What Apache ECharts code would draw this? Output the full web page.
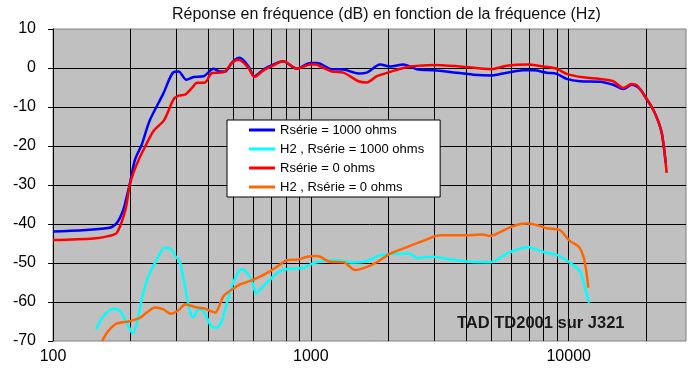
<!DOCTYPE html>
<html>
<head>
<meta charset="utf-8">
<script src="https://cdn.jsdelivr.net/npm/echarts@6/dist/echarts.min.js"></script>
<style>
  html, body { margin: 0; padding: 0; background: #fff; }
  #chart { width: 694px; height: 377px; }
</style>
</head>
<body>
<div id="chart"></div>
<script>
// courbes (Hz, dB)
var freqR1000 = [100, 164, 177, 187, 192, 199, 208, 221, 231, 238, 268, 293, 307, 329, 351, 384, 419, 445, 465, 494, 529, 573, 604, 655, 706, 779, 883, 994, 1050, 1087, 1206, 1338, 1530, 1648, 1856, 2030, 2285, 2575, 2987, 3467, 4268, 5030, 5750, 6670, 7290, 8220, 8985, 9820, 11060, 13220, 14890, 16280, 17550, 18900, 20060, 21280, 22250, 22940, 23410, 23770];
var dbR1000 = [-41.9, -41.0, -39.7, -36.5, -33.7, -29.4, -23.5, -19.6, -15.6, -13.2, -6.5, -1.1, -0.9, -3.0, -2.3, -2.1, -0.2, -0.9, -0.9, 1.4, 2.6, 0.4, -2.1, -0.4, 0.7, 1.7, -0.2, 1.3, 1.3, 1.1, -0.3, -0.4, -1.4, -1.2, 0.9, 0.4, 0.9, -0.3, -0.6, -1.0, -1.7, -1.9, -1.2, -0.6, -0.6, -1.2, -1.5, -2.8, -3.4, -3.5, -4.3, -5.4, -4.3, -5.4, -8.0, -10.7, -13.7, -16.6, -20.5, -24.3];

var freqH2R1000 = [147, 157, 172, 182, 192, 204, 213, 221, 233, 249, 272, 285, 301, 310, 321, 336, 349, 367, 382, 395, 413, 429, 452, 465, 487, 517, 540, 565, 591, 614, 636, 675, 716, 760, 831, 936, 994, 1055, 1261, 1462, 1648, 1856, 2090, 2426, 2575, 2987, 3467, 4144, 4955, 5259, 5750, 6287, 6970, 7516, 8220, 8985, 9820, 10577, 11060, 11390, 11744, 11990];
var dbH2R1000 = [-67.0, -63.6, -61.7, -62.3, -64.9, -68.0, -64.4, -59.3, -53.8, -49.9, -46.1, -46.3, -48.6, -49.5, -54.2, -61.0, -64.0, -61.9, -62.3, -64.0, -66.4, -66.6, -64.9, -61.9, -57.2, -52.9, -51.6, -52.5, -54.6, -57.8, -56.8, -55.1, -53.4, -52.1, -51.5, -51.2, -50.4, -49.8, -49.3, -49.9, -49.5, -48.0, -47.6, -47.6, -48.7, -48.4, -49.1, -49.7, -49.8, -49.2, -47.6, -46.6, -45.9, -46.6, -47.4, -47.9, -49.3, -50.9, -52.1, -54.6, -58.0, -60.2];

var freqR0 = [100, 144, 164, 177, 191, 198, 205, 215, 228, 245, 270, 293, 307, 326, 346, 361, 389, 413, 458, 494, 524, 573, 604, 655, 706, 783, 883, 994, 1050, 1087, 1206, 1338, 1530, 1648, 1803, 2030, 2220, 2426, 2987, 3791, 5030, 5750, 6880, 7970, 8985, 9820, 11390, 13220, 14890, 16280, 17550, 18350, 20060, 21280, 22250, 22940, 23410, 23770, 23980];
var dbR0 = [-44.1, -43.7, -43.1, -42.2, -36.3, -30.3, -26.9, -23.5, -20.1, -16.2, -13.3, -8.1, -7.1, -6.8, -5.1, -3.8, -3.7, -1.3, -1.1, 1.3, 2.1, 0.0, -2.3, -0.6, 0.5, 1.7, -0.2, 0.9, 0.9, 0.4, -0.9, -1.2, -3.4, -3.7, -2.1, -1.0, -0.2, 0.4, 0.8, 0.4, -0.3, 0.6, 0.9, 0.4, -0.2, -1.5, -2.4, -2.8, -3.4, -5.1, -4.1, -4.4, -7.9, -10.7, -13.7, -16.6, -20.5, -24.3, -26.9];

var freqH2R0 = [155, 164, 177, 199, 218, 231, 249, 268, 287, 307, 326, 341, 362, 389, 407, 426, 439, 458, 494, 532, 582, 636, 695, 760, 807, 895, 965, 1055, 1087, 1188, 1338, 1485, 1624, 1803, 2030, 2426, 2732, 3171, 3904, 4667, 4955, 5417, 6100, 6880, 7742, 8220, 9254, 10116, 10894, 11390, 11668, 11914];
var dbH2R0 = [-70.0, -67.4, -65.5, -64.9, -64.0, -62.7, -61.4, -61.9, -63.0, -62.1, -60.6, -60.9, -61.4, -61.7, -62.3, -62.7, -61.4, -58.5, -56.8, -55.5, -54.6, -53.5, -52.1, -50.4, -49.3, -49.1, -48.4, -48.2, -48.4, -49.7, -49.8, -51.8, -51.2, -49.8, -47.6, -45.6, -44.3, -42.9, -42.9, -42.7, -43.1, -42.1, -40.5, -39.9, -40.5, -41.1, -41.6, -44.4, -45.7, -48.2, -51.6, -56.3];

var seriesNames = ['Rsérie = 1000 ohms', 'H2 , Rsérie = 1000 ohms', 'Rsérie = 0 ohms', 'H2 , Rsérie = 0 ohms'];
var seriesColors = ['#0000ff', '#00ffff', '#ff0000', '#ff6600'];

// quadrillage : lignes verticales log et horizontales tous les 10 dB
var gridFreqs = [200, 300, 400, 500, 600, 700, 800, 900, 1000, 2000, 3000, 4000, 5000, 6000, 7000, 8000, 9000, 10000, 20000];
var gridDb = [0, -10, -20, -30, -40, -50, -60];

var fontFamily = '"Liberation Sans", Arial, sans-serif';

function pairs(xs, ys) {
    var out = [];
    for (var i = 0; i < xs.length; i++) {
        out.push([xs[i], ys[i]]);
    }
    return out;
}

var gridLines = [];
gridFreqs.forEach(function (f) { gridLines.push({xAxis: f}); });
gridDb.forEach(function (d) { gridLines.push({yAxis: d}); });

var curves = [
    [freqR1000, dbR1000],
    [freqH2R1000, dbH2R1000],
    [freqR0, dbR0],
    [freqH2R0, dbH2R0]
];

var series = [{
    name: 'grille',
    type: 'line',
    data: [],
    z: 1,
    silent: true,
    markLine: {
        z: 1,
        silent: true,
        symbol: ['none', 'none'],
        label: {show: false},
        lineStyle: {color: '#000', width: 1, type: 'solid'},
        emphasis: {disabled: true},
        animation: false,
        data: gridLines
    }
}];
curves.forEach(function (c, i) {
    series.push({
        name: seriesNames[i],
        type: 'line',
        data: pairs(c[0], c[1]),
        showSymbol: false,
        symbol: 'none',
        smooth: 0.3,
        z: 3 + i,
        lineStyle: {color: seriesColors[i], width: 2.5},
        itemStyle: {color: seriesColors[i]}
    });
});

var myChart = echarts.init(document.getElementById('chart'));
myChart.setOption({
    animation: false,
    backgroundColor: '#fff',
    textStyle: {fontFamily: fontFamily},
    grid: {
        left: 53, right: 8, top: 29, bottom: 36,
        show: true,
        backgroundColor: '#c0c0c0',
        borderColor: '#808080',
        borderWidth: 1
    },
    xAxis: {
        type: 'log',
        logBase: 10,
        min: 100,
        max: 28500,
        axisLine: {lineStyle: {color: '#000', width: 1}},
        axisTick: {show: true, inside: false, length: 5, lineStyle: {color: '#000'}},
        splitLine: {show: false},
        minorTick: {show: false},
        axisLabel: {
            color: '#000',
            fontSize: 16,
            margin: 8,
            fontFamily: fontFamily,
            showMaxLabel: false,
            formatter: function (v) {
                var l = Math.log10(v);
                return Math.abs(l - Math.round(l)) < 1e-6 ? String(Math.round(v)) : '';
            }
        }
    },
    yAxis: {
        type: 'value',
        min: -70,
        max: 10,
        interval: 10,
        axisLine: {show: true, lineStyle: {color: '#000', width: 1}},
        axisTick: {show: true, inside: false, length: 5, lineStyle: {color: '#000'}},
        splitLine: {show: false},
        axisLabel: {color: '#000', fontSize: 16, margin: 17, fontFamily: fontFamily}
    },
    legend: {
        data: seriesNames,
        orient: 'vertical',
        left: 227,
        top: 120,
        z: 20,
        backgroundColor: '#fff',
        borderColor: '#000',
        borderWidth: 1,
        borderRadius: 0,
        padding: [3, 16, 3, 22],
        icon: 'rect',
        itemWidth: 26,
        itemHeight: 3,
        itemGap: 5,
        selectedMode: false,
        textStyle: {color: '#000', fontSize: 13, lineHeight: 14, fontFamily: fontFamily}
    },
    graphic: [{
        type: 'text',
        left: 172,
        top: 7,
        style: {
            text: 'Réponse en fréquence (dB) en fonction de la fréquence (Hz)',
            fill: '#111',
            font: '16px ' + fontFamily
        }
    }, {
        type: 'text',
        left: 457,
        top: 315,
        z: 10,
        style: {
            text: 'TAD TD2001 sur J321',
            fill: '#1a1a1a',
            font: 'bold 16.5px ' + fontFamily
        }
    }],
    series: series
});
</script>
</body>
</html>
